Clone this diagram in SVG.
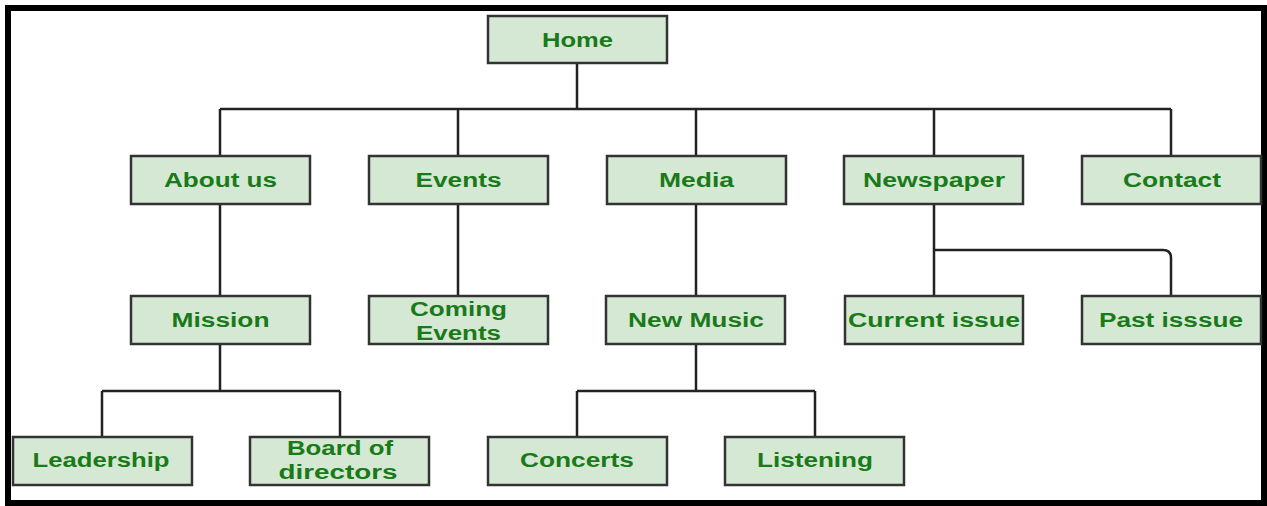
<svg xmlns="http://www.w3.org/2000/svg" width="1267" height="506" viewBox="0 0 1267 506">
<style>
.n rect{fill:#d5e8d4;stroke:#333;stroke-width:2.5}
.n text{font-family:"Liberation Sans",Arial,sans-serif;font-weight:bold;font-size:20px;fill:#1a7a1a;text-anchor:middle}
#edges path{fill:none;stroke:#222;stroke-width:2.5}
</style>
<rect x="0" y="0" width="1267" height="506" fill="#fff"/>
<rect x="8" y="8" width="1256" height="495" fill="none" stroke="#000" stroke-width="6"/>
<g id="edges">
<path d="M577,63V109M220,109H1171M220,109V156M458,109V156M696,109V156M934,109V156M1171,109V156"/>
<path d="M220,204V296M458,204V296M696,204V296"/>
<path d="M934,204V296M934,250H1163Q1171,250 1171,258V296"/>
<path d="M220,344V391M102,391H340M102,391V437M340,391V437"/>
<path d="M696,344V391M577,391H815M577,391V437M815,391V437"/>
</g>
<g id="home" class="n"><rect x="488" y="16" width="179" height="47"/><text x="577.5" y="47" textLength="71" lengthAdjust="spacingAndGlyphs">Home</text></g>
<g id="about" class="n"><rect x="131" y="156" width="179" height="48"/><text x="220.5" y="187" textLength="113" lengthAdjust="spacingAndGlyphs">About us</text></g>
<g id="events" class="n"><rect x="369" y="156" width="179" height="48"/><text x="458.5" y="187" textLength="86" lengthAdjust="spacingAndGlyphs">Events</text></g>
<g id="media" class="n"><rect x="607" y="156" width="179" height="48"/><text x="696.5" y="187" textLength="75" lengthAdjust="spacingAndGlyphs">Media</text></g>
<g id="newspaper" class="n"><rect x="844" y="156" width="179" height="48"/><text x="934" y="187" textLength="142" lengthAdjust="spacingAndGlyphs">Newspaper</text></g>
<g id="contact" class="n"><rect x="1082" y="156" width="179" height="48"/><text x="1172" y="187" textLength="98" lengthAdjust="spacingAndGlyphs">Contact</text></g>
<g id="mission" class="n"><rect x="131" y="296" width="179" height="48"/><text x="220.5" y="327" textLength="98" lengthAdjust="spacingAndGlyphs">Mission</text></g>
<g id="coming" class="n"><rect x="369" y="296" width="179" height="48"/><text x="458.5" y="316" textLength="97" lengthAdjust="spacingAndGlyphs">Coming</text><text x="458.5" y="340" textLength="85" lengthAdjust="spacingAndGlyphs">Events</text></g>
<g id="newmusic" class="n"><rect x="606" y="296" width="179" height="48"/><text x="696" y="327" textLength="136" lengthAdjust="spacingAndGlyphs">New Music</text></g>
<g id="current" class="n"><rect x="845" y="296" width="178" height="48"/><text x="934" y="327" textLength="172" lengthAdjust="spacingAndGlyphs">Current issue</text></g>
<g id="past" class="n"><rect x="1082" y="296" width="179" height="48"/><text x="1171" y="327" textLength="144" lengthAdjust="spacingAndGlyphs">Past isssue</text></g>
<g id="leadership" class="n"><rect x="13" y="437" width="179" height="48"/><text x="101" y="467" textLength="137" lengthAdjust="spacingAndGlyphs">Leadership</text></g>
<g id="board" class="n"><rect x="250" y="437" width="179" height="48"/><text x="340" y="455" textLength="106" lengthAdjust="spacingAndGlyphs">Board of</text><text x="338" y="479" textLength="119" lengthAdjust="spacingAndGlyphs">directors</text></g>
<g id="concerts" class="n"><rect x="488" y="437" width="179" height="48"/><text x="577" y="467" textLength="114" lengthAdjust="spacingAndGlyphs">Concerts</text></g>
<g id="listening" class="n"><rect x="725" y="437" width="179" height="48"/><text x="815" y="467" textLength="116" lengthAdjust="spacingAndGlyphs">Listening</text></g>
</svg>
